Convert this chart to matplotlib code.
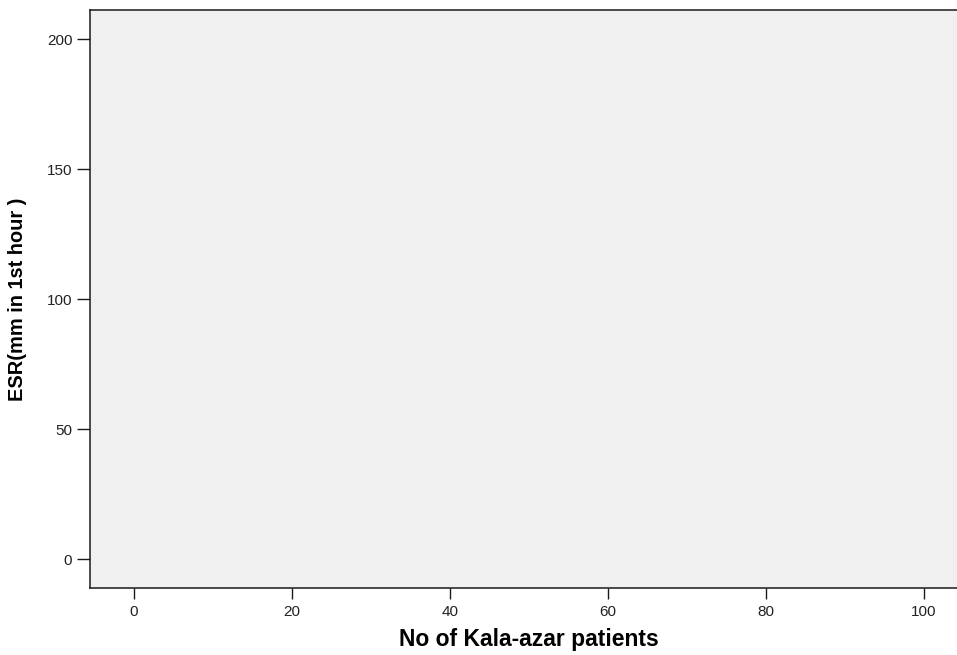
import numpy as np
import matplotlib.pyplot as plt

# %%
# the scatter in the source has no visible points
patients = []
esr = []

x_ticks = [0, 20, 40, 60, 80, 100]
y_ticks = [0, 50, 100, 150, 200]
x_label = 'No of Kala-azar patients'
y_label = 'ESR(mm in 1st hour )'

# %%
plt.rcParams['font.family'] = ['Liberation Sans', 'DejaVu Sans']

W, H = 957, 655
fig = plt.figure(figsize=(W/100, H/100), dpi=100)
# axes box in pixels: left 89.7, top 10.3, bottom 588.3, right runs past the edge
ax = fig.add_axes([89.7/W, (H-588.3)/H, 878/W, 578/H])
ax.set_facecolor('#f0f0f0')

ax.scatter(patients, esr, s=20, color='#3e58ac')

ax.set_xlim(-5.57, 105.57)
ax.set_ylim(-11.15, 211.15)
ax.set_xticks(x_ticks)
ax.set_yticks(y_ticks)

for side in ['left', 'bottom', 'top', 'right']:
    ax.spines[side].set_color('#1a1a1a')
    ax.spines[side].set_linewidth(1.1)

ax.tick_params(axis='x', length=8, width=1.0, color='#1a1a1a', pad=4,
               labelsize=11, labelcolor='#222222')
ax.tick_params(axis='y', length=9.5, width=1.0, color='#1a1a1a', pad=3,
               labelsize=11, labelcolor='#222222')

ax.set_xlabel(x_label, fontsize=16.5, fontweight='bold', va='top')
ax.xaxis.set_label_coords(0.5, -0.068)
ax.set_ylabel(y_label, fontsize=14.4, fontweight='bold', va='center')
ax.yaxis.set_label_coords(-0.0817, 0.5)

fig.savefig('out.png', dpi=100)
